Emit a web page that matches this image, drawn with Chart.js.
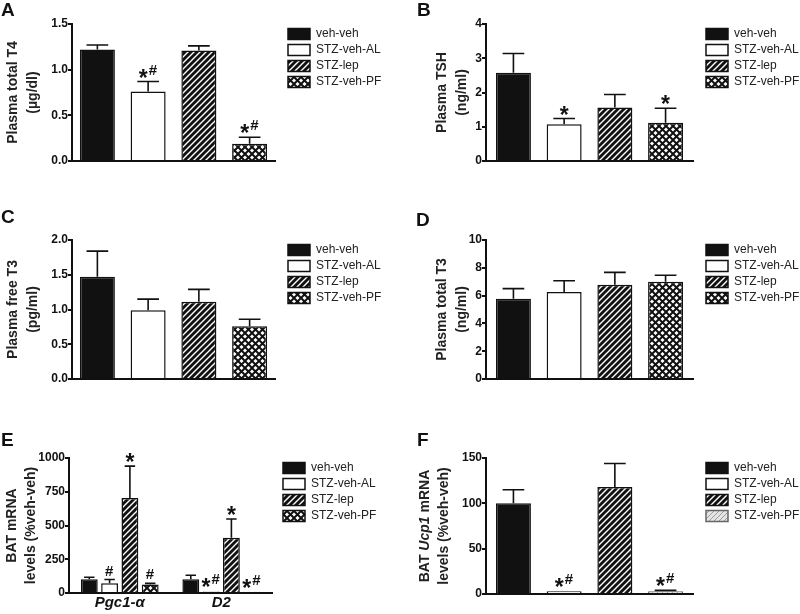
<!DOCTYPE html>
<html>
<head>
<meta charset="utf-8">
<script src="https://cdn.jsdelivr.net/npm/chart.js@4.4.1/dist/chart.umd.min.js"></script>
<style>
  html, body { margin: 0; padding: 0; background: #fff; overflow: hidden; }
  #fig { position: relative; width: 800px; height: 614px; font-family: 'Liberation Sans', Arial, sans-serif; }
  canvas { position: absolute; }
  .letter { position: absolute; font-weight: bold; font-size: 19px; line-height: 19px; color: #111; }
</style>
</head>
<body>
<div id="fig">
  <canvas id="cA"></canvas>
  <canvas id="cB"></canvas>
  <canvas id="cC"></canvas>
  <canvas id="cD"></canvas>
  <canvas id="cE"></canvas>
  <canvas id="cF"></canvas>
  <div class="letter" style="left:1px;top:0px">A</div>
  <div class="letter" style="left:417px;top:0px">B</div>
  <div class="letter" style="left:1px;top:207px">C</div>
  <div class="letter" style="left:416px;top:210px">D</div>
  <div class="letter" style="left:1px;top:430px">E</div>
  <div class="letter" style="left:417px;top:430px">F</div>
</div>
<script>
const FONT = "'Liberation Sans', Arial, sans-serif";
const groups = ['veh-veh', 'STZ-veh-AL', 'STZ-lep', 'STZ-veh-PF'];

// A - plasma total T4
const t4Mean = [1.22, 0.76, 1.21, 0.19];
const t4Sem = [0.05, 0.11, 0.05, 0.07];
const t4Marks = ['', '*#', '', '*#'];
const t4Ticks = [0, 0.5, 1.0, 1.5];

// B - plasma TSH
const tshMean = [2.58, 1.07, 1.56, 1.12];
const tshSem = [0.56, 0.17, 0.38, 0.42];
const tshMarks = ['', '*', '', '*'];
const tshTicks = [0, 1, 2, 3, 4];

// C - plasma free T3
const ft3Mean = [1.47, 0.99, 1.11, 0.76];
const ft3Sem = [0.37, 0.16, 0.18, 0.10];
const ft3Marks = ['', '', '', ''];
const ft3Ticks = [0, 0.5, 1.0, 1.5, 2.0];

// D - plasma total T3
const tt3Mean = [5.78, 6.26, 6.78, 7.0];
const tt3Sem = [0.72, 0.81, 0.89, 0.46];
const tt3Marks = ['', '', '', ''];
const tt3Ticks = [0, 2, 4, 6, 8, 10];

// E - BAT mRNA, two genes
const genes = ['Pgc1-\u03b1', 'D2'];
const pgcMean = [102, 72, 703, 63];
const pgcSem = [15, 28, 237, 8];
const pgcMarks = ['', '#', '*', '#'];
const d2Mean = [102, 12, 409, 10];
const d2Sem = [29, 0, 139, 0];
const d2Marks = ['', '*#', '*', '*#'];
const mrnaTicks = [0, 250, 500, 750, 1000];

// F - BAT Ucp1 mRNA
const ucpMean = [100, 3, 118, 3];
const ucpSem = [15, 0, 26, 1];
const ucpMarks = ['', '*#', '', '*#'];
const ucpTicks = [0, 50, 100, 150];

// fill patterns
function hatch(bg, fg, size, lw) {
  const c = document.createElement('canvas');
  c.width = c.height = size;
  const g = c.getContext('2d');
  g.fillStyle = bg; g.fillRect(0, 0, size, size);
  g.strokeStyle = fg; g.lineWidth = lw;
  g.beginPath();
  g.moveTo(-1, size + 1); g.lineTo(size + 1, -1);
  g.moveTo(-1, 1); g.lineTo(1, -1);
  g.moveTo(size - 1, size + 1); g.lineTo(size + 1, size - 1);
  g.stroke();
  return g.createPattern(c, 'repeat');
}
function cross(bg, fg, size, lw) {
  const c = document.createElement('canvas');
  c.width = c.height = size;
  const g = c.getContext('2d');
  g.fillStyle = bg; g.fillRect(0, 0, size, size);
  g.strokeStyle = fg; g.lineWidth = lw;
  g.beginPath();
  g.moveTo(-1, -1); g.lineTo(size + 1, size + 1);
  g.moveTo(-1, size + 1); g.lineTo(size + 1, -1);
  g.stroke();
  return g.createPattern(c, 'repeat');
}
const fills = ['#111', '#fff', hatch('#111', '#fff', 6, 1.4), cross('#fff', '#111', 7, 2)];
const fillsF = ['#111', '#fff', hatch('#111', '#fff', 6, 1.4), hatch('#e4e4e4', '#9a9a9a', 5, 1)];

// draws '*' big and '#' smaller, bottoms placed above the error cap
function drawMark(ctx, mark, cx, top) {
  const starF = 'bold 23px ' + FONT, hashF = 'bold 15px ' + FONT;
  const hasStar = mark.includes('*'), hasHash = mark.includes('#');
  ctx.font = starF;
  const s = ctx.measureText('*');
  ctx.font = hashF;
  const h = ctx.measureText('#');
  const sw = s.actualBoundingBoxLeft + s.actualBoundingBoxRight;
  const hw = h.actualBoundingBoxLeft + h.actualBoundingBoxRight;
  const total = (hasStar ? sw : 0) + (hasHash ? hw : 0) + (hasStar && hasHash ? 1 : 0);
  let x = cx - total / 2;
  const starBottom = top - 4;
  ctx.textAlign = 'left';
  ctx.textBaseline = 'alphabetic';
  if (hasStar) {
    ctx.font = starF;
    ctx.fillText('*', x + s.actualBoundingBoxLeft, starBottom - s.actualBoundingBoxDescent);
    x += sw + 1;
  }
  if (hasHash) {
    const hb = hasStar ? starBottom - 3 : top - 4;
    ctx.font = hashF;
    ctx.fillText('#', x + h.actualBoundingBoxLeft, hb - h.actualBoundingBoxDescent);
  }
}

// box = canvas [left, top, w, h], area = chart area [x0, y0, x1, y1] (page coords)
function panel(id, o) {
  const cv = document.getElementById(id);
  const [bl, bt, bw, bh] = o.box;
  const [x0, y0, x1, y1] = o.area;
  cv.width = bw; cv.height = bh;
  cv.style.left = bl + 'px'; cv.style.top = bt + 'px';
  cv.style.width = bw + 'px'; cv.style.height = bh + 'px';
  const legW = 100;
  const xh = o.xh || 0;

  const errorBars = {
    id: 'errorBars',
    afterDatasetsDraw(chart) {
      const ctx = chart.ctx, y = chart.scales.y;
      ctx.save();
      chart.data.datasets.forEach((ds, i) => {
        chart.getDatasetMeta(i).data.forEach((bar, j) => {
          const top = y.getPixelForValue(ds.data[j] + ds.sem[j]);
          if (ds.sem[j] > 0) {
            const cap = bar.width * 0.31;
            ctx.strokeStyle = '#111';
            ctx.lineWidth = 1.6;
            ctx.beginPath();
            ctx.moveTo(bar.x, bar.y); ctx.lineTo(bar.x, top);
            ctx.moveTo(bar.x - cap, top); ctx.lineTo(bar.x + cap, top);
            ctx.stroke();
          }
          if (ds.marks[j]) {
            ctx.fillStyle = '#111';
            drawMark(ctx, ds.marks[j], bar.x, Math.min(top, bar.y));
          }
        });
      });
      ctx.restore();
    }
  };

  // rotated y title, '_' toggles italic
  const yTitle = {
    id: 'yTitle',
    afterDraw(chart) {
      const ctx = chart.ctx;
      const cy = (chart.chartArea.top + chart.chartArea.bottom) / 2;
      ctx.save();
      ctx.fillStyle = '#222';
      ctx.textBaseline = 'middle';
      ctx.textAlign = 'left';
      o.title.forEach((line, k) => {
        const parts = line.split('_').map((t, n) => ({ t, f: (n % 2 ? 'italic ' : '') + 'bold 14px ' + FONT }));
        let total = 0;
        parts.forEach(p => { ctx.font = p.f; p.w = ctx.measureText(p.t).width; total += p.w; });
        ctx.save();
        ctx.translate(o.titleX[k] - bl, cy);
        ctx.rotate(-Math.PI / 2);
        let x = -total / 2;
        parts.forEach(p => { ctx.font = p.f; ctx.fillText(p.t, x, 0); x += p.w; });
        ctx.restore();
      });
      ctx.restore();
    }
  };

  const legendGap = {
    id: 'legendGap',
    afterLayout(chart) {
      chart.legend.left += o.gap;
      chart.legend.right += o.gap;
    }
  };

  const ticks = o.ticks;
  new Chart(cv, {
    type: 'bar',
    data: {
      labels: o.labels,
      datasets: o.sets.map((s, i) => ({
        label: groups[i],
        data: s[0],
        sem: s[1],
        marks: s[2],
        backgroundColor: o.fills[i],
        borderColor: (o.borders && o.borders[i]) || '#111',
        borderWidth: 1.5,
        barPercentage: o.barPct,
        categoryPercentage: o.catPct
      }))
    },
    options: {
      responsive: false,
      animation: false,
      devicePixelRatio: 1,
      layout: {
        padding: { left: 0, top: y0 - bt, right: bl + bw - legW - x1, bottom: bt + bh - y1 - xh }
      },
      scales: {
        x: {
          grid: { display: false, drawTicks: false },
          border: { display: true, color: '#111', width: 2 },
          ticks: o.xFont ? { font: o.xFont, color: '#111', padding: 1 } : { display: false },
          afterFit: s => { s.height = xh; }
        },
        y: {
          min: ticks[0],
          max: ticks[ticks.length - 1],
          afterBuildTicks: s => { s.ticks = ticks.map(v => ({ value: v })); },
          afterFit: s => { s.width = x0 - bl; },
          ticks: {
            callback: v => v.toFixed(o.dec),
            font: { family: FONT, weight: 'bold', size: 12 },
            color: '#111',
            padding: 0
          },
          grid: { drawOnChartArea: false, drawTicks: true, tickLength: 4, lineWidth: 2, color: '#111' },
          border: { display: true, color: '#111', width: 2 }
        }
      },
      plugins: {
        legend: {
          position: 'right',
          align: 'start',
          maxWidth: legW,
          labels: {
            boxWidth: 22,
            boxHeight: 11,
            padding: 4,
            color: '#222',
            font: { family: FONT, size: 12 }
          }
        },
        tooltip: { enabled: false }
      }
    },
    plugins: [errorBars, yTitle, legendGap]
  });
}

const single = [''];
panel('cA', {
  box: [0, 0, 400, 175], area: [72, 24, 275, 161], gap: 9,
  labels: single, ticks: t4Ticks, dec: 1, barPct: 0.69, catPct: 1.0, fills,
  sets: [0, 1, 2, 3].map(i => [[t4Mean[i]], [t4Sem[i]], [t4Marks[i]]]),
  title: ['Plasma total T4', '(\u00b5g/dl)'], titleX: [13, 33]
});
panel('cB', {
  box: [400, 0, 400, 175], area: [486, 24, 693, 161], gap: 9,
  labels: single, ticks: tshTicks, dec: 0, barPct: 0.69, catPct: 0.98, fills,
  sets: [0, 1, 2, 3].map(i => [[tshMean[i]], [tshSem[i]], [tshMarks[i]]]),
  title: ['Plasma TSH', '(ng/ml)'], titleX: [442, 462]
});
panel('cC', {
  box: [0, 200, 400, 200], area: [72, 240, 275, 379], gap: 9,
  labels: single, ticks: ft3Ticks, dec: 1, barPct: 0.69, catPct: 1.0, fills,
  sets: [0, 1, 2, 3].map(i => [[ft3Mean[i]], [ft3Sem[i]], [ft3Marks[i]]]),
  title: ['Plasma free T3', '(pg/ml)'], titleX: [13, 33]
});
panel('cD', {
  box: [400, 200, 400, 200], area: [486, 240, 693, 379], gap: 9,
  labels: single, ticks: tt3Ticks, dec: 0, barPct: 0.69, catPct: 0.98, fills,
  sets: [0, 1, 2, 3].map(i => [[tt3Mean[i]], [tt3Sem[i]], [tt3Marks[i]]]),
  title: ['Plasma total T3', '(ng/ml)'], titleX: [442, 462]
});
panel('cE', {
  box: [0, 420, 400, 194], area: [69, 458, 272, 593], gap: 7, xh: 20,
  xFont: { family: FONT, size: 15, weight: 'bold', style: 'italic' },
  labels: genes, ticks: mrnaTicks, dec: 0, barPct: 0.83, catPct: 0.8, fills,
  sets: [0, 1, 2, 3].map(i => [[pgcMean[i], d2Mean[i]], [pgcSem[i], d2Sem[i]], [pgcMarks[i], d2Marks[i]]]),
  title: ['BAT mRNA', 'levels (%veh-veh)'], titleX: [12, 31]
});
panel('cF', {
  box: [400, 420, 400, 194], area: [486, 458, 693, 594], gap: 9,
  labels: single, ticks: ucpTicks, dec: 0, barPct: 0.69, catPct: 0.98, fills: fillsF,
  borders: ['#111', '#111', '#111', '#666'],
  sets: [0, 1, 2, 3].map(i => [[ucpMean[i]], [ucpSem[i]], [ucpMarks[i]]]),
  title: ['BAT _Ucp1_ mRNA', 'levels (%veh-veh)'], titleX: [425, 444]
});
</script>
</body>
</html>
